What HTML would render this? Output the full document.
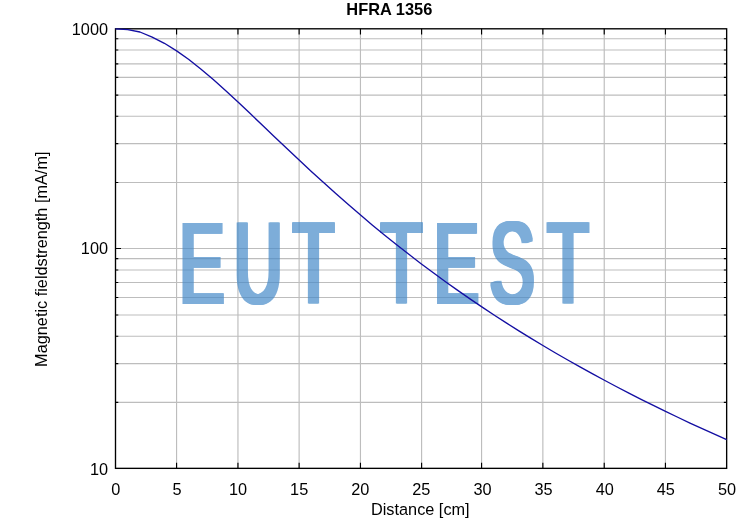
<!DOCTYPE html>
<html lang="en">
<head>
<meta charset="utf-8">
<title>HFRA 1356</title>
<style>
html,body{margin:0;padding:0;background:#fff;}
body{width:755px;height:527px;overflow:hidden;}
svg{display:block;font-family:"Liberation Sans",Arial,Helvetica,sans-serif;font-size:16.3px;fill:#000;}
.g{stroke:#bdbdbd;stroke-width:1.15;fill:none;}
.a{stroke:#000;stroke-width:1.35;fill:none;}
.t{stroke:#000;stroke-width:1.15;fill:none;}
.c{stroke:#130ea2;stroke-width:1.35;fill:none;stroke-linejoin:round;}
.wm{fill:#478bc9;}
</style>
</head>
<body>
<svg width="755" height="527" viewBox="0 0 755 527">
<rect width="755" height="527" fill="#fff"/>
<path class="g" d="M176.57 28.8V468.35M237.95 28.8V468.35M299.12 28.8V468.35M360.45 28.8V468.35M421.6 28.8V468.35M481.57 28.8V468.35M542.86 28.8V468.35M604.23 28.8V468.35M665.44 28.8V468.35M115.5 38.75H726.65M115.5 50.0H726.65M115.5 63.8H726.65M115.5 77.4H726.65M115.5 95.05H726.65M115.5 116.2H726.65M115.5 143.55H726.65M115.5 182.5H726.65M115.5 248.5H726.65M115.5 258.6H726.65M115.5 269.95H726.65M115.5 282.5H726.65M115.5 297.45H726.65M115.5 314.95H726.65M115.5 336.2H726.65M115.5 363.55H726.65M115.5 402.35H726.65"/>
<defs><filter id="dil" x="-5%" y="-5%" width="110%" height="110%"><feMorphology operator="dilate" radius="2 1" result="a"/><feOffset in="a" dx="1" dy="0" result="b"/><feMerge><feMergeNode in="a"/><feMergeNode in="b"/></feMerge></filter></defs>
<g class="wm" opacity="0.7" filter="url(#dil)"><text transform="scale(0.672 1.1526)" font-size="100" x="266.50 347.35 435.10 505.95 566.21 645.00 728.20 813.82" y="262.58">EUT TEST</text></g>
<path class="t" d="M176.57 28.8v5.6M176.57 468.35v-5.6M237.95 28.8v5.6M237.95 468.35v-5.6M299.12 28.8v5.6M299.12 468.35v-5.6M360.45 28.8v5.6M360.45 468.35v-5.6M421.6 28.8v5.6M421.6 468.35v-5.6M481.57 28.8v5.6M481.57 468.35v-5.6M542.86 28.8v5.6M542.86 468.35v-5.6M604.23 28.8v5.6M604.23 468.35v-5.6M665.44 28.8v5.6M665.44 468.35v-5.6M115.5 38.75h2.8M726.65 38.75h-2.8M115.5 50.0h2.8M726.65 50.0h-2.8M115.5 63.8h2.8M726.65 63.8h-2.8M115.5 77.4h2.8M726.65 77.4h-2.8M115.5 95.05h2.8M726.65 95.05h-2.8M115.5 116.2h2.8M726.65 116.2h-2.8M115.5 143.55h2.8M726.65 143.55h-2.8M115.5 182.5h2.8M726.65 182.5h-2.8M115.5 248.5h5.5M726.65 248.5h-5.5M115.5 258.6h2.8M726.65 258.6h-2.8M115.5 269.95h2.8M726.65 269.95h-2.8M115.5 282.5h2.8M726.65 282.5h-2.8M115.5 297.45h2.8M726.65 297.45h-2.8M115.5 314.95h2.8M726.65 314.95h-2.8M115.5 336.2h2.8M726.65 336.2h-2.8M115.5 363.55h2.8M726.65 363.55h-2.8M115.5 402.35h2.8M726.65 402.35h-2.8"/>
<rect class="a" x="115.5" y="28.8" width="611.15" height="439.55"/>
<polyline class="c" points="115.50,28.80 127.72,29.70 139.95,32.00 152.17,37.13 164.39,43.28 176.62,50.83 188.84,59.54 201.06,69.20 213.28,79.59 225.51,90.52 237.73,101.82 249.95,113.36 262.18,125.01 274.40,136.68 286.62,148.30 298.85,159.81 311.07,171.18 323.29,182.36 335.51,193.33 347.74,204.09 359.96,214.61 372.18,224.90 384.41,234.95 396.63,244.76 408.85,254.34 421.07,263.69 433.30,272.81 445.52,281.71 457.74,290.40 469.97,298.87 482.19,307.15 494.41,315.23 506.64,323.13 518.86,330.84 531.08,338.38 543.31,345.75 555.53,352.96 567.75,360.01 579.97,366.91 592.20,373.66 604.42,380.27 616.64,386.75 628.87,393.09 641.09,399.31 653.31,405.41 665.53,411.39 677.76,417.26 689.98,423.02 702.20,428.67 714.43,434.22 726.65,439.67"/>
<text x="389.3" y="14.5" text-anchor="middle" font-weight="bold" font-size="16.4">HFRA 1356</text>
<text x="108" y="34.60" text-anchor="end">1000</text>
<text x="108" y="254.38" text-anchor="end">100</text>
<text x="108" y="475.10" text-anchor="end">10</text>
<text x="115.80" y="495" text-anchor="middle">0</text>
<text x="176.92" y="495" text-anchor="middle">5</text>
<text x="238.03" y="495" text-anchor="middle">10</text>
<text x="299.15" y="495" text-anchor="middle">15</text>
<text x="360.26" y="495" text-anchor="middle">20</text>
<text x="421.38" y="495" text-anchor="middle">25</text>
<text x="482.49" y="495" text-anchor="middle">30</text>
<text x="543.61" y="495" text-anchor="middle">35</text>
<text x="604.72" y="495" text-anchor="middle">40</text>
<text x="665.83" y="495" text-anchor="middle">45</text>
<text x="726.95" y="495" text-anchor="middle">50</text>
<text x="420.3" y="515.1" text-anchor="middle">Distance [cm]</text>
<text transform="translate(47.05 259.2) rotate(-90)" text-anchor="middle">Magnetic fieldstrength [mA/m]</text>
</svg>
</body>
</html>
